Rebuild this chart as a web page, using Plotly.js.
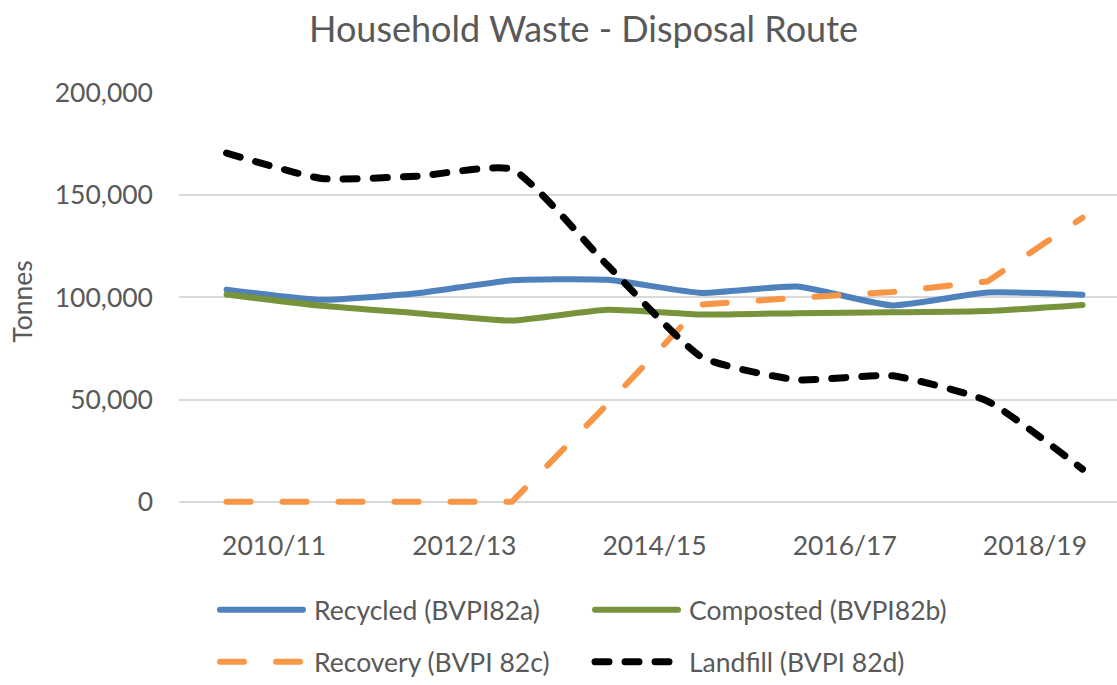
<!DOCTYPE html>
<html>
<head>
<meta charset="utf-8">
<script src="https://cdn.plot.ly/plotly-3.0.1.min.js"></script>
<style>
  html, body { margin: 0; padding: 0; background: #ffffff; }
  #chart { width: 1117px; height: 685px; }
</style>
</head>
<body>
<div id="chart"></div>
<script>
// ---- data ----
const categories = ['2010/11', '2011/12', '2012/13', '2013/14', '2014/15',
                    '2015/16', '2016/17', '2017/18', '2018/19', '2019/20'];
const recycled  = [103800,  98800, 102000, 108400, 108600, 102200, 105300,  96100, 102400, 101300];
const composted = [101400,  95900,  92300,  88700,  94000,  91600,  92300,  92700,  93300,  96300];
const recovery  = [     0,      0,      0,      0,  47500,  96500,  99800, 102700, 107800, 139000];
const landfill  = [170600, 158200, 159300, 162700, 116000,  70700,  59700,  61700,  49300,  16000];
const seriesNames = ['Recycled (BVPI82a)', 'Composted (BVPI82b)', 'Recovery (BVPI 82c)', 'Landfill (BVPI 82d)'];
const yTickValues = [0, 50000, 100000, 150000, 200000];
const chartTitle = 'Household Waste - Disposal Route';
const yTitle = 'Tonnes';

// ---- build chart ----
const xIdx = categories.map((c, i) => i);
const labelIdx = xIdx.filter(i => i % 2 === 0);
const xTickVals = labelIdx.map(i => i + 0.5);
const xTickText = labelIdx.map(i => categories[i]);

const textColor = '#595959';
const fontFamily = 'Lato, "Open Sans", sans-serif';

function mkTrace(name, y, color, dash, shape, width, legend) {
  return {
    type: 'scatter', mode: 'lines', name: name,
    x: xIdx, y: y, customdata: categories,
    hovertemplate: '%{customdata}: %{y:,}<extra>' + name + '</extra>',
    line: { color: color, width: width, dash: dash, shape: shape, smoothing: 0.5 },
    legend: legend
  };
}

const traces = [
  mkTrace(seriesNames[0], recycled,  '#4F81BD', 'solid', 'spline', 6, 'legend'),
  mkTrace(seriesNames[1], composted, '#77933C', 'solid', 'spline', 6, 'legend'),
  mkTrace(seriesNames[2], recovery,  '#F79646', '24px,32px', 'linear', 6, 'legend2'),
  mkTrace(seriesNames[3], landfill,  '#000000', '14px,16px', 'spline', 7, 'legend2')
];

const legendCommon = {
  orientation: 'h', xref: 'container', yref: 'container',
  xanchor: 'left', yanchor: 'middle',
  itemwidth: 89, entrywidth: 271, entrywidthmode: 'pixels',
  font: { family: fontFamily, size: 26.5, color: textColor },
  bgcolor: 'rgba(0,0,0,0)', borderwidth: 0, traceorder: 'normal'
};

const layout = {
  width: 1117, height: 685,
  margin: { l: 179, r: 0, t: 93, b: 175, pad: 0 },
  paper_bgcolor: '#ffffff', plot_bgcolor: '#ffffff',
  font: { family: fontFamily, color: textColor, size: 26.5 },
  title: {
    text: chartTitle,
    font: { family: fontFamily, size: 36, color: textColor },
    xref: 'container', x: 583.5 / 1117, xanchor: 'center',
    yref: 'container', y: 1 - 29 / 685, yanchor: 'middle'
  },
  xaxis: {
    range: [-0.5, 9.363],
    tickmode: 'array', tickvals: xTickVals, ticktext: xTickText,
    showgrid: false, zeroline: false, showline: false, ticks: '',
    ticklabelstandoff: 17,
    tickfont: { family: fontFamily, size: 26.5, color: textColor },
    fixedrange: true
  },
  yaxis: {
    range: [-4000, 200000],
    tickmode: 'array', tickvals: yTickValues, tickformat: ',',
    showgrid: true, gridcolor: '#d9d9d9', gridwidth: 2,
    zeroline: false, showline: false, ticks: '',
    ticklabelstandoff: 25,
    tickfont: { family: fontFamily, size: 26.5, color: textColor },
    title: { text: yTitle, standoff: 14, font: { family: fontFamily, size: 26.5, color: textColor } },
    fixedrange: true
  },
  showlegend: true,
  legend: Object.assign({}, legendCommon, { x: 215 / 1117, y: 1 - 610 / 685 }),
  legend2: Object.assign({}, legendCommon, { x: 215 / 1117, y: 1 - 662 / 685 })
};

Plotly.newPlot('chart', traces, layout, { displayModeBar: false, responsive: false }).then(gd => {
  gd.querySelectorAll('.legendlines path').forEach(p => {
    p.setAttribute('d', 'M5,0h83');
  });
  gd.querySelectorAll('.scatterlayer .js-line, .legendlines path').forEach(p => {
    p.style.strokeLinecap = 'round';
    p.style.strokeLinejoin = 'round';
  });
});
</script>
</body>
</html>
